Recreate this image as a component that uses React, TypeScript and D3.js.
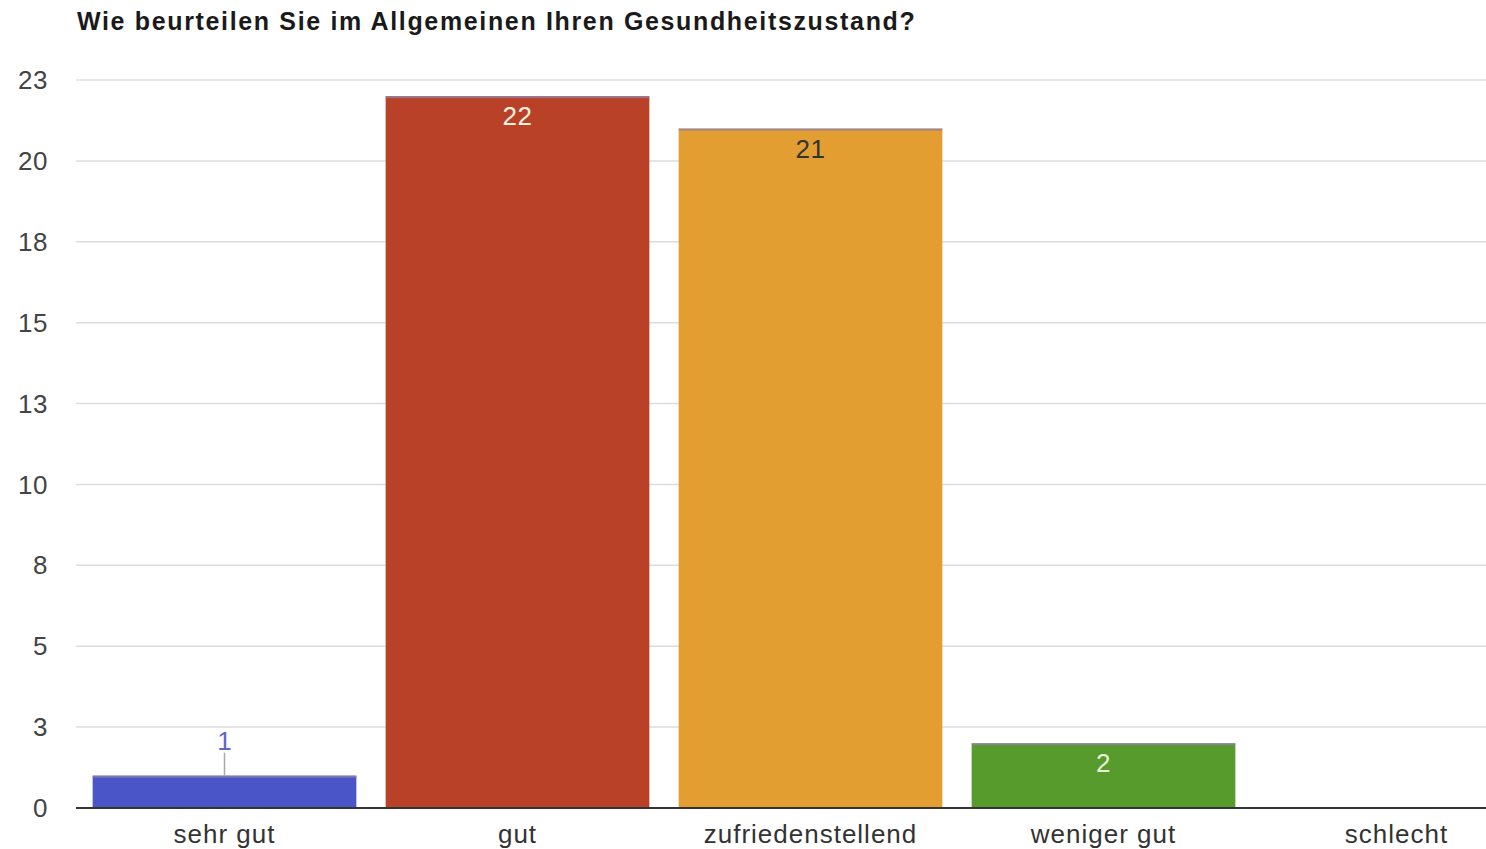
import React from "react";
import * as d3 from "d3";

const title = "Wie beurteilen Sie im Allgemeinen Ihren Gesundheitszustand?";
const categories = ["sehr gut", "gut", "zufriedenstellend", "weniger gut", "schlecht"];
const values = [1, 22, 21, 2, 0];
const colors = ["#4a55c8", "#b94128", "#e39e32", "#569b2c", "#888888"];
const labelColors = ["#6464c8", "#fff3e0", "#333333", "#e8f8d8", "#333333"];
const yTicks = [0, 2.5, 5, 7.5, 10, 12.5, 15, 17.5, 20, 22.5];

const W = 1486;
const H = 849;
const left = 76;
const baseline = 808;
const top = 80;

export default function App() {
  const y = d3.scaleLinear().domain([0, 22.5]).range([baseline, top]);
  const x = d3.scaleBand<string>().domain(categories).range([78, 1543]).paddingInner(0.1).paddingOuter(0.05);
  const font = "'Liberation Sans', Arial, sans-serif";
  return (
    <svg width={W} height={H} style={{ position: "absolute", left: 0, top: 0, background: "#fff" }} fontFamily={font}>
      <rect x={0} y={0} width={W} height={H} fill="#fff" />
      <text x={77} y={30} fontSize={25} fontWeight="bold" fill="#1a1a1a" letterSpacing={1.65}>{title}</text>
      {yTicks.map((t) => (
        <g key={t}>
          {t !== 0 && <line x1={left} x2={W} y1={y(t)} y2={y(t)} stroke="#dcdcdc" strokeWidth={1.5} />}
          <text x={48} y={y(t)} dy="0.35em" textAnchor="end" fontSize={26} fill="#444" letterSpacing={0.5}>{Math.round(t)}</text>
        </g>
      ))}
      {categories.map((c, i) => {
        const v = values[i];
        if (v <= 0) return null;
        const bx = x(c)!;
        const bw = x.bandwidth();
        const by = y(v);
        const cx = bx + bw / 2;
        const small = by > baseline - 50;
        return (
          <g key={c}>
            <rect x={bx} y={by} width={bw} height={baseline - by} fill={colors[i]} />
            <rect x={bx} y={by} width={bw} height={2} fill="#8e7fa8" opacity={0.8} />
            {small && i === 0 ? (
              <>
                <line x1={cx} x2={cx} y1={by} y2={by - 23} stroke="#aaa" strokeWidth={1.5} />
                <text x={cx} y={by - 26} textAnchor="middle" fontSize={26} fill={labelColors[i]}>{v}</text>
              </>
            ) : (
              <text x={cx} y={by + 20} dy="0.35em" textAnchor="middle" fontSize={26} fill={labelColors[i]} letterSpacing={0.5}>{v}</text>
            )}
          </g>
        );
      })}
      <line x1={left} x2={W} y1={baseline} y2={baseline} stroke="#333" strokeWidth={2} />
      {categories.map((c) => (
        <text key={c} x={x(c)! + x.bandwidth() / 2} y={843} textAnchor="middle" fontSize={26} fill="#333" letterSpacing={1}>{c}</text>
      ))}
    </svg>
  );
}
